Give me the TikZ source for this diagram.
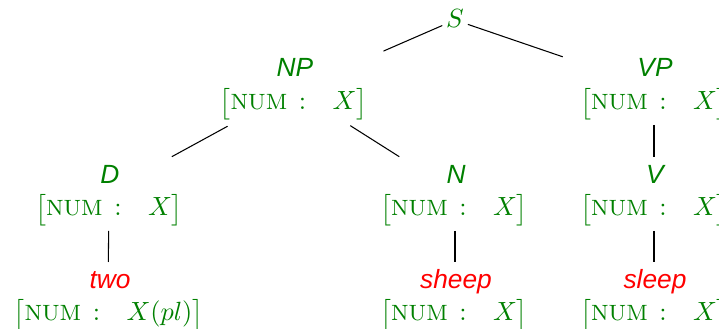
\documentclass[tikz,border=0pt]{standalone}
\usepackage{amsmath}
\usepackage{fontspec}
\newfontfamily\lblfont{Liberation Sans}
\definecolor{fg}{RGB}{0,128,0}
\definecolor{wd}{RGB}{255,0,0}
\newcommand\avmnum[1]{$\begin{bmatrix}\text{\fontsize{8.4}{10}\selectfont NUM}\,: & #1\rule[-4.2pt]{0pt}{12pt}\end{bmatrix}$}
\tikzset{
  lbl/.style={text=fg, font=\lblfont\itshape, anchor=base, inner sep=0pt},
  word/.style={text=wd, font=\lblfont\itshape, anchor=base, inner sep=0pt},
  avm/.style={text=fg, inner sep=0pt},
  edge/.style={draw=black, line width=0.4pt}
}
\begin{document}
\begin{tikzpicture}[x=0.38pt,y=-0.38pt]
\useasboundingbox (0,0) rectangle (719,329);
% root
\node[lbl] (S) at (455,28) {$S$};
\coordinate (Sc) at (455,20);
% NP
\node[lbl] (NPl) at (295,77) {NP};
\node[avm] (NPa) at (293.5,104) {\avmnum{X}};
\coordinate (NP) at (294,90);
% VP
\node[lbl] (VPl) at (655,77) {VP};
\node[avm] (VPa) at (654,104) {\avmnum{X}};
\coordinate (VP) at (654,88);
% D
\node[lbl] (Dl) at (110,184) {D};
\node[avm] (Da) at (109,210) {\avmnum{X}};
\coordinate (D) at (109,191);
% N
\node[lbl] (Nl) at (456,184) {N};
\node[avm] (Na) at (454,210) {\avmnum{X}};
\coordinate (N) at (455,192);
% V
\node[lbl] (Vl) at (655,184) {V};
\node[avm] (Va) at (654,210) {\avmnum{X}};
\coordinate (V) at (654,192);
% words
\node[word] (twol) at (110,289) {two};
\node[avm] (twoa) at (108.5,315) {\avmnum{X(pl)}};
\coordinate (two) at (108,300);
\node[word] (sheepl) at (456,289) {sheep};
\node[avm] (sheepa) at (454,315) {\avmnum{X}};
\coordinate (sheep) at (455,300);
\node[word] (sleepl) at (655,289) {sleep};
\node[avm] (sleepa) at (654,315) {\avmnum{X}};
\coordinate (sleep) at (654,300);
% connectors
\draw[edge, shorten <=5.28pt, shorten >=37.09pt] (Sc) -- (NP);
\draw[edge, shorten <=5.17pt, shorten >=36.67pt] (Sc) -- (VP);
\draw[edge, shorten <=28.77pt, shorten >=27.21pt] (NP) -- (D);
\draw[edge, shorten <=25.31pt, shorten >=25.08pt] (NP) -- (N);
\draw[edge, shorten <=14.06pt, shorten >=13.3pt] (VP) -- (V);
\draw[edge, shorten <=15.2pt, shorten >=14.44pt] (D) -- (two);
\draw[edge, shorten <=14.82pt, shorten >=14.44pt] (N) -- (sheep);
\draw[edge, shorten <=14.82pt, shorten >=14.44pt] (V) -- (sleep);
\end{tikzpicture}
\end{document}
